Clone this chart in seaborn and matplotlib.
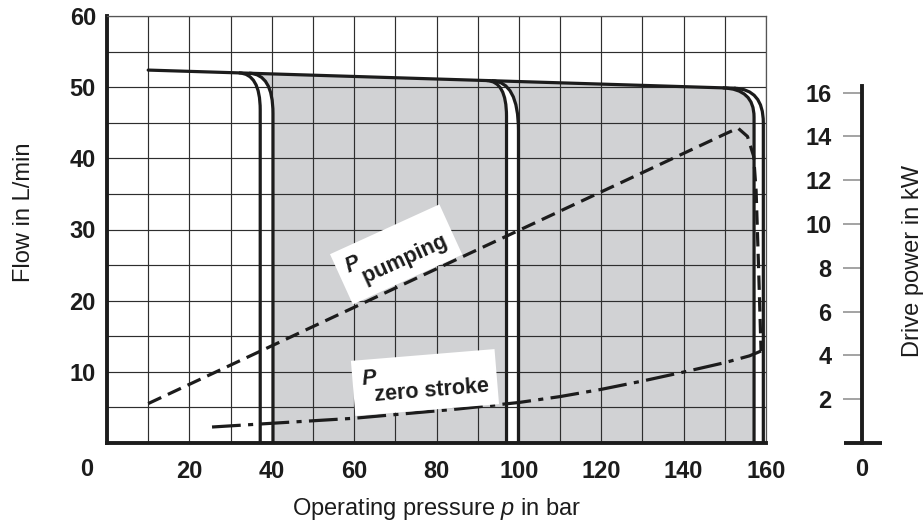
import numpy as np
import matplotlib
matplotlib.use("Agg")
import matplotlib.pyplot as plt
from matplotlib.path import Path
from matplotlib.patches import PathPatch
import seaborn as sns

# ---- data -------------------------------------------------------------
# flow line of the pump (bar, L/min)
top_p = [10.0, 152.5]
top_q = [52.4, 49.85]

# throttle curves: join point on flow line, corner control point,
# start of vertical drop, foot on the pressure axis
a40_p = [32.0, 37.2, 37.2, 37.2]
a40_q = [52.01, 51.91, 46.8, 0.0]
b40_p = [34.5, 40.3, 40.3, 40.3]
b40_q = [51.96, 51.86, 46.3, 0.0]
a100_p = [92.2, 97.0, 97.0, 97.0]
a100_q = [50.93, 50.84, 45.9, 0.0]
b100_p = [93.4, 99.9, 99.9, 99.9]
b100_q = [50.91, 50.79, 43.9, 0.0]
a160_p = [149.5, 157.1, 157.1, 157.1]
a160_q = [49.90, 49.77, 45.8, 0.0]
b160_p = [152.3, 159.35, 159.35, 159.35]
b160_q = [49.85, 49.73, 45.0, 0.0]

# drive power (bar, kW)
pump_p = [10.0, 150.5, 153.2, 155.5, 157.0, 157.6, 158.2, 158.8]
pump_kw = [1.8, 14.15, 14.38, 14.0, 13.1, 11.5, 8.0, 4.2]
zero_p = [25.5, 40, 60, 85, 100, 110, 120, 130, 140, 150, 156, 158.8]
zero_kw = [0.73, 0.9, 1.13, 1.55, 1.85, 2.12, 2.45, 2.83, 3.24, 3.67, 3.98, 4.2]

x_ticks = list(range(0, 161, 10))
x_labels = ["", "", "20", "", "40", "", "60", "", "80", "", "100", "", "120", "", "140", "", "160"]
y_ticks = list(range(0, 61, 5))
y_labels = ["", "", "10", "", "20", "", "30", "", "40", "", "50", "", "60"]
kw_ticks = [2, 4, 6, 8, 10, 12, 14, 16]

# ---- style ------------------------------------------------------------
sns.set_style("white")
plt.rcParams["font.family"] = ["Liberation Sans", "DejaVu Sans"]
plt.rcParams["mathtext.fontset"] = "custom"
plt.rcParams["mathtext.rm"] = "Liberation Sans"
plt.rcParams["mathtext.it"] = "Liberation Sans:italic"
plt.rcParams["mathtext.bf"] = "Liberation Sans:bold"
plt.rcParams["mathtext.bfit"] = "Liberation Sans:italic:bold"

INK = "#1c1c1c"
FILL = "#d1d2d4"
LW = 2.3
TICK_FS = 17

fig = plt.figure(figsize=(9.24, 5.26), dpi=100)
ax = fig.add_axes([107 / 924, 83 / 526, 659 / 924, 427 / 526])
ax.set_xlim(0, 160)
ax.set_ylim(0, 60)
ax.set_xticks(x_ticks)
ax.set_xticklabels(x_labels)
ax.set_yticks(y_ticks)
ax.set_yticklabels(y_labels)
ax.tick_params(axis="both", length=0, labelsize=TICK_FS, colors=INK)
ax.tick_params(axis="x", pad=12.5)
ax.tick_params(axis="y", pad=8)
for lab in ax.get_xticklabels() + ax.get_yticklabels():
    lab.set_fontweight("bold")
ax.set_axisbelow("line")
ax.grid(True, color="#2e2e2e", linewidth=0.85)
for side in ("left", "bottom"):
    ax.spines[side].set_linewidth(2.8)
    ax.spines[side].set_color(INK)
for side in ("top", "right"):
    ax.spines[side].set_linewidth(0.9)
    ax.spines[side].set_color("#555555")


def throttle_path(p, q):
    verts = list(zip(p, q))
    codes = [Path.MOVETO, Path.CURVE3, Path.CURVE3, Path.LINETO]
    return Path(verts, codes)


def band_path(left_p, left_q, right_p, right_q):
    # shaded band bounded by one throttle curve on each side
    verts = [
        (left_p[3], left_q[3]), (left_p[2], left_q[2]),
        (left_p[1], left_q[1]), (left_p[0], left_q[0]),
        (right_p[0], right_q[0]), (right_p[1], right_q[1]),
        (right_p[2], right_q[2]), (right_p[3], right_q[3]),
        (left_p[3], left_q[3]),
    ]
    codes = [Path.MOVETO, Path.LINETO, Path.CURVE3, Path.CURVE3,
             Path.LINETO, Path.CURVE3, Path.CURVE3, Path.LINETO, Path.CLOSEPOLY]
    return Path(verts, codes)


ax.add_patch(PathPatch(band_path(b40_p, b40_q, a100_p, a100_q), fc=FILL, ec="none", zorder=1))
ax.add_patch(PathPatch(band_path(b100_p, b100_q, a160_p, a160_q), fc=FILL, ec="none", zorder=1))

for p, q in [(a40_p, a40_q), (b40_p, b40_q), (a100_p, a100_q),
             (b100_p, b100_q), (a160_p, a160_q), (b160_p, b160_q)]:
    ax.add_patch(PathPatch(throttle_path(p, q), fc="none", ec=INK, lw=LW, zorder=3))

sns.lineplot(x=top_p, y=top_q, ax=ax, color=INK, lw=LW, sort=False, estimator=None, zorder=3)

ax.set_xlabel("Operating pressure $p$ in bar", fontsize=17, color=INK)
ax.xaxis.set_label_coords(0.5, -0.125)
ax.set_ylabel("Flow in L/min", fontsize=17, color=INK)
ax.yaxis.set_label_coords(-0.11, 0.54)

ax.annotate("0", xy=(0, 0), xytext=(-14.4, -19.4), textcoords="offset points",
            ha="center", va="center", fontsize=TICK_FS, fontweight="bold", color=INK,
            annotation_clip=False)

# ---- drive power axis ----------------------------------------------------
ax2 = ax.twinx()
ax2.set_ylim(0, 19.5)
ax2.grid(False)
for side in ("top", "bottom", "right"):
    ax2.spines[side].set_visible(False)
spine_x = (862 - 107) / 659
ax2.spines["left"].set_position(("axes", spine_x))
ax2.spines["left"].set_bounds(0, 16.3)
ax2.spines["left"].set_linewidth(2.8)
ax2.spines["left"].set_color(INK)
ax2.yaxis.tick_left()
ax2.set_yticks(kw_ticks)
ax2.set_yticklabels([str(t) for t in kw_ticks])
ax2.tick_params(axis="y", direction="out", length=14, width=1.1, color="#8a8a8a",
                pad=8, labelsize=TICK_FS, labelcolor=INK)
for lab in ax2.get_yticklabels():
    lab.set_fontweight("bold")
ax2.plot([spine_x - 0.028, spine_x + 0.03], [0, 0], transform=ax2.get_yaxis_transform(),
         clip_on=False, color=INK, lw=2.8, solid_capstyle="butt")
ax2.annotate("0", xy=(spine_x, 0), xycoords=ax2.get_yaxis_transform(),
             xytext=(0, -19.4), textcoords="offset points", ha="center", va="center",
             fontsize=TICK_FS, fontweight="bold", color=INK, annotation_clip=False)
ax2.yaxis.set_label_position("right")
ax2.set_ylabel("Drive power in kW", fontsize=17, color=INK)
ax2.yaxis.set_label_coords(1.207, 0.426)

sns.lineplot(x=pump_p, y=pump_kw, ax=ax2, color=INK, lw=LW, sort=False, estimator=None,
             linestyle=(0, (4.5, 2.3)), zorder=3)
sns.lineplot(x=zero_p, y=zero_kw, ax=ax2, color=INK, lw=LW, sort=False, estimator=None,
             linestyle=(0, (9.0, 2.3, 1.6, 2.3)), zorder=3)
ax2.set_xlim(0, 160)

box = dict(boxstyle="square,pad=0.4", fc="white", ec="none")
ax2.text(70.2, 26.5, "$\\mathbfit{P}$\n  pumping", transform=ax.transData,
         rotation=24.5, rotation_mode="anchor", ha="center", va="center",
         multialignment="left", linespacing=0.75, fontsize=15.5, fontweight="bold",
         color=INK, bbox=box, zorder=5)
ax2.text(77.2, 8.5, "$\\mathbfit{P}$\n  zero stroke", transform=ax.transData,
         rotation=4.7, rotation_mode="anchor", ha="center", va="center",
         multialignment="left", linespacing=0.75, fontsize=15.5, fontweight="bold",
         color=INK, bbox=box, zorder=5)

fig.savefig("out.png", dpi=100)
